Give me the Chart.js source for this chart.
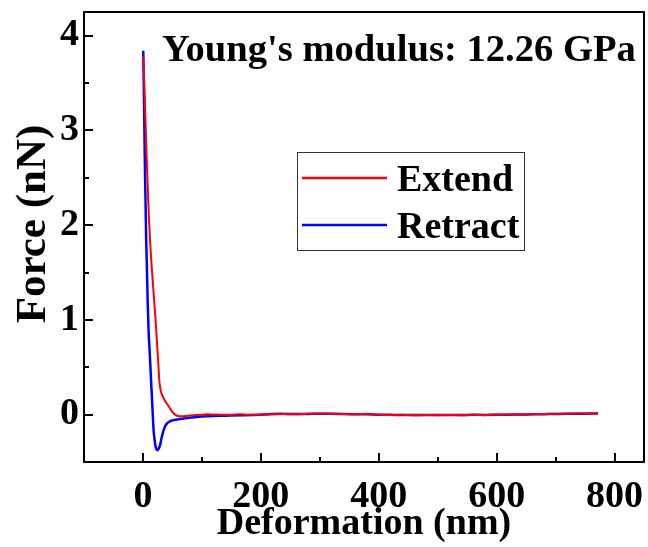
<!DOCTYPE html>
<html>
<head>
<meta charset="utf-8">
<script src="https://cdn.jsdelivr.net/npm/chart.js@4.4.0/dist/chart.umd.min.js"></script>
<style>
  html, body { margin: 0; padding: 0; background: #fff; }
  #wrap { width: 648px; height: 547px; }
</style>
</head>
<body>
<div id="wrap"><canvas id="c" width="648" height="547"></canvas></div>
<script>
// Force–deformation curves (AFM nanoindentation)
const extendX = [0.5, 2, 3.5, 5, 6.2, 8, 10, 12, 13.6, 15.2, 17, 19, 21, 22.5, 24, 25.4, 26.5, 27.6, 29, 30.5, 32.5, 35, 38, 41.8, 45, 49, 52, 54.7, 58, 63, 70, 80, 90, 100, 110, 120, 135, 150, 165, 180, 200, 220, 240, 260, 280, 300, 320, 340, 360, 380, 400, 420, 440, 460, 480, 500, 520, 540, 560, 580, 600, 620, 640, 660, 680, 700, 720, 740, 760, 772];
const extendY = [3.78, 3.55, 3.27, 2.98, 2.74, 2.42, 2.10, 1.85, 1.68, 1.53, 1.38, 1.20, 1.04, 0.895, 0.74, 0.61, 0.49, 0.37, 0.295, 0.245, 0.205, 0.175, 0.14, 0.105, 0.075, 0.035, 0.015, 0.0, -0.012, -0.018, -0.016, -0.01, -0.005, 0.0, 0.004, 0.002, -0.002, 0.0, 0.003, -0.002, 0.001, 0.004, 0.006, 0.003, 0.008, 0.012, 0.010, 0.006, 0.004, 0.008, -0.002, -0.005, -0.002, -0.007, -0.004, -0.006, -0.003, -0.006, -0.002, -0.004, 0.0, 0.002, -0.001, 0.004, 0.006, 0.008, 0.010, 0.012, 0.013, 0.014];

const retractX = [0.5, 2, 3, 4.5, 5.5, 6.8, 8, 9.5, 11, 12.4, 14, 15.2, 16.6, 18, 19.5, 20.8, 22.5, 24.8, 27, 29.3, 31.5, 33.9, 35.8, 37.8, 40.5, 43.4, 48, 55, 63, 75, 91.5, 110, 130, 148, 170, 200, 233, 260, 280, 300, 320, 340, 360, 380, 400, 420, 440, 460, 480, 500, 520, 540, 560, 580, 600, 620, 640, 660, 680, 700, 720, 740, 760, 772];
const retractY = [3.84, 3.25, 2.75, 2.2, 1.85, 1.53, 1.2, 0.895, 0.71, 0.54, 0.33, 0.19, 0.01, -0.16, -0.25, -0.316, -0.36, -0.375, -0.355, -0.316, -0.25, -0.19, -0.15, -0.12, -0.095, -0.08, -0.065, -0.055, -0.046, -0.035, -0.025, -0.018, -0.013, -0.01, -0.006, 0.0, 0.008, 0.006, 0.007, 0.010, 0.009, 0.006, 0.004, 0.003, 0.0, -0.002, -0.004, -0.003, -0.005, -0.004, -0.003, -0.004, -0.002, -0.003, -0.001, 0.0, 0.002, 0.003, 0.005, 0.007, 0.009, 0.010, 0.011, 0.012];

const xMajorTicks = [0, 200, 400, 600, 800];
const xMinorTicks = [100, 300, 500, 700];
const yMajorTicks = [0, 1, 2, 3, 4];
const yMinorTicks = [0.5, 1.5, 2.5, 3.5];

const seriesNames = ['Extend', 'Retract'];
const xTitle = 'Deformation (nm)';
const yTitle = 'Force (nN)';
const annotationText = "Young's modulus: 12.26 GPa";

const SERIF = "'Liberation Serif', 'Times New Roman', serif";
Chart.defaults.color = '#000';

function toPoints(xs, ys) { return xs.map((x, i) => ({ x: x, y: ys[i] })); }

// Keep the plot frame at fixed margins: no extra room for overflowing labels
function noLabelPadding(s) {
  s.paddingLeft = 0; s.paddingRight = 0; s.paddingTop = 0; s.paddingBottom = 0;
}

// Frame with inward major/minor ticks on the left and bottom axes
const framePlugin = {
  id: 'frame',
  afterDraw(chart) {
    const { ctx, chartArea: a, scales: { x, y } } = chart;
    ctx.save();
    ctx.strokeStyle = '#000';
    ctx.lineWidth = 2;
    ctx.lineCap = 'butt';
    ctx.strokeRect(a.left, a.top, a.right - a.left, a.bottom - a.top);
    ctx.beginPath();
    xMajorTicks.forEach(v => { const p = Math.round(x.getPixelForValue(v)); ctx.moveTo(p, a.bottom); ctx.lineTo(p, a.bottom - 9); });
    xMinorTicks.forEach(v => { const p = Math.round(x.getPixelForValue(v)); ctx.moveTo(p, a.bottom); ctx.lineTo(p, a.bottom - 5); });
    yMajorTicks.forEach(v => { const p = Math.round(y.getPixelForValue(v)); ctx.moveTo(a.left, p); ctx.lineTo(a.left + 9, p); });
    yMinorTicks.forEach(v => { const p = Math.round(y.getPixelForValue(v)); ctx.moveTo(a.left, p); ctx.lineTo(a.left + 5, p); });
    ctx.stroke();
    ctx.restore();
  }
};

// Y-axis title, boxed legend and the modulus annotation
const labelsPlugin = {
  id: 'labels',
  afterDraw(chart) {
    const { ctx, chartArea: a } = chart;
    ctx.save();
    ctx.fillStyle = '#000';

    // rotated y-axis title
    ctx.save();
    ctx.font = 'bold 43px ' + SERIF;
    ctx.translate(45, 224);
    ctx.rotate(-Math.PI / 2);
    ctx.textAlign = 'center';
    ctx.textBaseline = 'alphabetic';
    ctx.fillText(yTitle, 0, 0);
    ctx.restore();

    ctx.textAlign = 'left';
    ctx.textBaseline = 'alphabetic';
    ctx.font = 'bold 38.6px ' + SERIF;
    ctx.fillText(annotationText, a.left + 78, a.top + 49);

    ctx.font = 'bold 38px ' + SERIF;
    const bx = a.left + 213.5, by = a.top + 140.5, bw = 227, bh = 98;
    ctx.strokeStyle = '#333';
    ctx.lineWidth = 1;
    ctx.strokeRect(bx, by, bw, bh);
    const rows = [a.top + 166, a.top + 213];
    chart.data.datasets.forEach((ds, i) => {
      ctx.strokeStyle = ds.borderColor;
      ctx.lineWidth = 2.5;
      ctx.beginPath();
      ctx.moveTo(bx + 4.5, rows[i]);
      ctx.lineTo(bx + 89.5, rows[i]);
      ctx.stroke();
      ctx.fillText(ds.label, bx + 99.5, rows[i] + 12.5);
    });
    ctx.restore();
  }
};

new Chart(document.getElementById('c'), {
  type: 'scatter',
  data: {
    datasets: [
      { label: seriesNames[0], data: toPoints(extendX, extendY), showLine: true, borderColor: '#ff0000', borderWidth: 2, pointRadius: 0, cubicInterpolationMode: 'monotone' },
      { label: seriesNames[1], data: toPoints(retractX, retractY), showLine: true, borderColor: '#0000ff', borderWidth: 2.5, pointRadius: 0, cubicInterpolationMode: 'monotone' }
    ]
  },
  options: {
    responsive: false,
    animation: false,
    layout: { padding: { left: 0, top: 12, right: 4, bottom: 0 } },
    plugins: { legend: { display: false }, tooltip: { enabled: false } },
    scales: {
      x: {
        type: 'linear', min: -100, max: 850,
        afterBuildTicks: s => { s.ticks = xMajorTicks.map(v => ({ value: v })); },
        afterFit: s => { s.height = 85; noLabelPadding(s); },
        grid: { display: false, drawTicks: false },
        border: { display: false },
        ticks: { padding: 12, font: { family: SERIF, size: 38, weight: 'bold' }, color: '#000' },
        title: { display: true, text: xTitle, padding: { top: 0, bottom: 0 }, font: { family: SERIF, size: 38, weight: 'bold' }, color: '#000' }
      },
      y: {
        type: 'linear', min: -0.5, max: 4.25,
        afterBuildTicks: s => { s.ticks = yMajorTicks.map(v => ({ value: v })); },
        afterFit: s => { s.width = 84; noLabelPadding(s); },
        grid: { display: false, drawTicks: false },
        border: { display: false },
        ticks: { padding: 5, font: { family: SERIF, size: 38, weight: 'bold' }, color: '#000' },
        title: { display: false }
      }
    }
  },
  plugins: [framePlugin, labelsPlugin]
});
</script>
</body>
</html>
